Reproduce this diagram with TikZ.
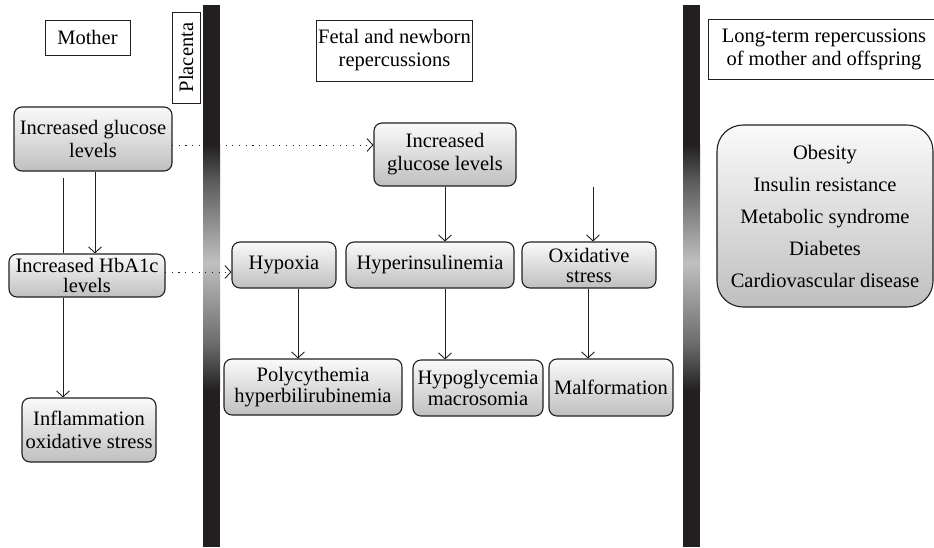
\documentclass[tikz,border=0pt]{standalone}
\usepackage{fontspec}
\setmainfont{Liberation Serif}
\usetikzlibrary{arrows.meta}
\definecolor{bardark}{HTML}{231F20}
\definecolor{barmid}{HTML}{5A5A5A}
\definecolor{barmid2}{HTML}{6A6A6A}
\definecolor{barlight}{HTML}{C0C0C0}
\definecolor{linec}{HTML}{231F20}
\tikzset{
  every node/.style={font=\fontsize{20.5}{23}\selectfont, text=black},
  hdr/.style={draw=linec, line width=1pt, fill=white, align=center, inner sep=2pt},
  gbox/.style={draw=linec, line width=1.1pt, rounded corners=8pt, top color=gray!4, bottom color=gray!50, align=center, inner sep=2pt},
  arr/.style={draw=linec, line width=0.9pt, -{Straight Barb[length=6pt,width=13pt]}},
  plain/.style={draw=linec, line width=0.9pt},
  dotarr/.style={draw=linec, line width=0.9pt, dash pattern=on 1.1pt off 5.6pt, -{Straight Barb[length=6pt,width=13pt]}},
}
\begin{document}
\begin{tikzpicture}[x=1pt,y=-1pt]
\useasboundingbox (0,0) rectangle (934,547);
\clip (0,0) rectangle (934,547);
% placenta bars
\foreach \bx in {203,683}{
  \fill[bardark] (\bx,5) rectangle (\bx+17,547);
  \shade[top color=bardark, bottom color=barmid] (\bx,145) rectangle (\bx+17,180.5);
  \shade[top color=barmid, bottom color=barlight] (\bx,180) rectangle (\bx+17,262.5);
  \shade[top color=barlight, bottom color=barmid2] (\bx,262) rectangle (\bx+17,345.5);
  \shade[top color=barmid2, bottom color=bardark] (\bx,345) rectangle (\bx+17,390);
}
% headers
\node[hdr, minimum width=85, minimum height=35] (mother) at (87.5,37.5) {Mother};
\node[hdr, rotate=90, minimum width=91, minimum height=28] (placenta) at (186,57.5) {Placenta};
\node[hdr, minimum width=147, minimum height=61] (fetal) at (394.5,50.5) {Fetal and newborn\\repercussions};
\node[hdr, minimum width=232, minimum height=60] (longhdr) at (824,49.5) {Long-term repercussions\\of mother and offspring};
% mother column
\node[gbox, minimum width=158, minimum height=64] (mglu) at (93,139) {Increased glucose\\levels};
\node[gbox, minimum width=156, minimum height=43] (hba) at (87,275.5) {Increased HbA1c\\[-3pt]levels};
\node[gbox, minimum width=134, minimum height=64] (infl) at (89,430) {Inflammation\\oxidative stress};
% fetal column
\node[gbox, minimum width=142, minimum height=63] (fglu) at (445,154.5) {Increased\\glucose levels};
\node[gbox, minimum width=104, minimum height=46] (hypoxia) at (284,265) {Hypoxia};
\node[gbox, minimum width=168, minimum height=46] (hyperins) at (430,265) {Hyperinsulinemia};
\node[gbox, minimum width=134, minimum height=46] (oxid) at (589,265) {Oxidative\\[-3pt]stress};
\node[gbox, minimum width=178, minimum height=56] (poly) at (313,387) {Polycythemia\\[-2pt]hyperbilirubinemia};
\node[gbox, minimum width=130, minimum height=56] (hypog) at (478,388) {Hypoglycemia\\[-2pt]macrosomia};
\node[gbox, minimum width=124, minimum height=57] (malf) at (611,387.5) {Malformation};
% long-term
\node[gbox, rounded corners=26pt, minimum width=216, minimum height=182, font=\fontsize{20.5}{32}\selectfont] (longbox) at (825,216) {Obesity\\Insulin resistance\\Metabolic syndrome\\Diabetes\\Cardiovascular disease};
% connectors
\coordinate (l1) at (63,178);
\draw[plain] (l1) -- (l1 |- hba.north);
\draw[arr] ([xshift=2pt]mglu.south) -- ([xshift=2pt]mglu.south |- hba.north);
\draw[arr] (l1 |- hba.south) -- (l1 |- infl.north);
\coordinate (d1) at (172,145);
\draw[dotarr] (d1) -- (d1 -| fglu.west);
\coordinate (d2) at (165,272);
\draw[dotarr] (d2) -- (d2 -| hypoxia.west);
\draw[arr] (fglu.south) -- (fglu.south |- hyperins.north);
\coordinate (o1) at (593,187);
\draw[arr] (o1) -- (o1 |- oxid.north);
\draw[arr] ([xshift=14pt]hypoxia.south) -- ([xshift=14pt]hypoxia.south |- poly.north);
\draw[arr] ([xshift=15pt]hyperins.south) -- ([xshift=15pt]hyperins.south |- hypog.north);
\draw[arr] ([xshift=-1pt]oxid.south) -- ([xshift=-1pt]oxid.south |- malf.north);
\end{tikzpicture}
\end{document}
